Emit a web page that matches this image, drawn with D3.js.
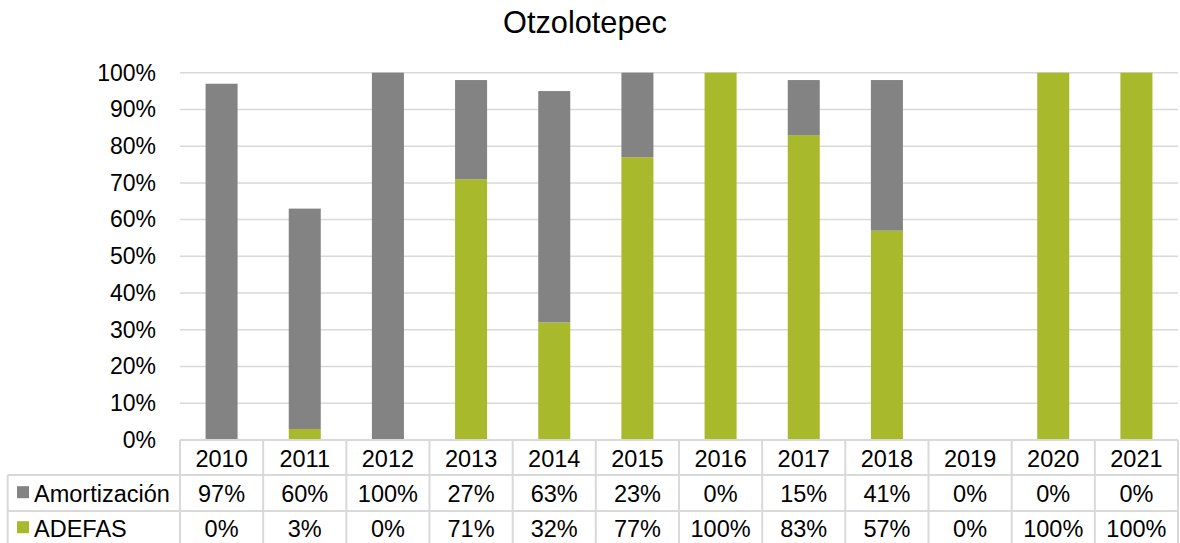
<!DOCTYPE html>
<html><head><meta charset="utf-8">
<script src="https://cdn.jsdelivr.net/npm/d3@7"></script>
<style>body{margin:0;background:#fff;}svg{display:block;font-family:"Liberation Sans",Arial,sans-serif;}</style>
</head><body>
<svg id="c" width="1180" height="543"></svg>
<script>
const title = "Otzolotepec";
const years = ["2010","2011","2012","2013","2014","2015","2016","2017","2018","2019","2020","2021"];
const amortizacion = [97,60,100,27,63,23,0,15,41,0,0,0];
const adefas = [0,3,0,71,32,77,100,83,57,0,100,100];
const seriesNames = ["Amortización","ADEFAS"];
const yTicks = [0,10,20,30,40,50,60,70,80,90,100];
const colors = {"Amortización":"#838383","ADEFAS":"#a8b92b"};

(function(){
const svg = d3.select("#c");
const pLeft = 180, pRight = 1178, pTop = 72.7, pBottom = 440;
const x = d3.scaleBand().domain(years).range([pLeft,pRight]).paddingInner(0.615).paddingOuter(0.3075);
const xc = d3.scaleBand().domain(years).range([pLeft,pRight]);
const y = d3.scaleLinear().domain([0,100]).range([pBottom,pTop]);

svg.append("text").attr("x",585).attr("y",33).attr("text-anchor","middle")
  .attr("font-size",30.7).attr("fill","#000").text(title);

// gridlines
svg.append("g").selectAll("line").data(yTicks.filter(d=>d>0)).join("line")
  .attr("x1",pLeft).attr("x2",pRight).attr("y1",d=>y(d)).attr("y2",d=>y(d))
  .attr("stroke","#d9d9d9").attr("stroke-width",1.5);

// y axis labels
const yAxis = d3.axisLeft(y).tickValues(yTicks).tickFormat(d=>d+"%").tickSize(0).tickPadding(24);
const ga = svg.append("g").attr("transform",`translate(${pLeft},0)`).call(yAxis);
ga.select(".domain").remove();
ga.selectAll("text").attr("font-size",23).attr("fill","#000").attr("font-family","Liberation Sans, Arial, sans-serif");

// stacked bars
const rows = years.map((yr,i)=>({year:yr,"ADEFAS":adefas[i],"Amortización":amortizacion[i]}));
const stack = d3.stack().keys(["ADEFAS","Amortización"])(rows);
svg.append("g").selectAll("g").data(stack).join("g").attr("fill",d=>colors[d.key])
  .selectAll("rect").data(d=>d).join("rect")
  .attr("x",d=>x(d.data.year)).attr("width",x.bandwidth())
  .attr("y",d=>y(d[1])).attr("height",d=>y(d[0])-y(d[1]));

// data table
const rowY = [440,475,511,547];
const g = svg.append("g");
const lc = "#d9d9d9";
g.append("line").attr("x1",pLeft).attr("x2",pRight).attr("y1",rowY[0]).attr("y2",rowY[0]).attr("stroke",lc).attr("stroke-width",2);
[1,2].forEach(i=>g.append("line").attr("x1",7.7).attr("x2",pRight).attr("y1",rowY[i]).attr("y2",rowY[i]).attr("stroke",lc).attr("stroke-width",2));
years.forEach(yr=>g.append("line").attr("x1",xc(yr)).attr("x2",xc(yr)).attr("y1",rowY[0]).attr("y2",543).attr("stroke",lc).attr("stroke-width",2));
g.append("line").attr("x1",pRight).attr("x2",pRight).attr("y1",rowY[0]).attr("y2",543).attr("stroke",lc).attr("stroke-width",2);
g.append("line").attr("x1",7.7).attr("x2",7.7).attr("y1",rowY[1]).attr("y2",543).attr("stroke",lc).attr("stroke-width",2);

const fs = 23.5;
g.selectAll("text.yr").data(years).join("text").attr("class","yr")
  .attr("x",d=>xc(d)+xc.bandwidth()/2).attr("y",466.7).attr("text-anchor","middle")
  .attr("font-size",fs).attr("fill","#000").text(d=>d);
const vals = [amortizacion, adefas];
const base = [501.7, 536.7];
seriesNames.forEach((s,si)=>{
  g.append("rect").attr("x",17).attr("y",base[si]-15.5).attr("width",12).attr("height",12).attr("fill",colors[s]);
  g.append("text").attr("x",34).attr("y",base[si]).attr("font-size",fs).attr("fill","#000").text(s);
  g.selectAll("text.v"+si).data(vals[si]).join("text").attr("class","v"+si)
    .attr("x",(d,i)=>xc(years[i])+xc.bandwidth()/2).attr("y",base[si]).attr("text-anchor","middle")
    .attr("font-size",fs).attr("fill","#000").text(d=>d+"%");
});
})();
</script>
</body></html>
